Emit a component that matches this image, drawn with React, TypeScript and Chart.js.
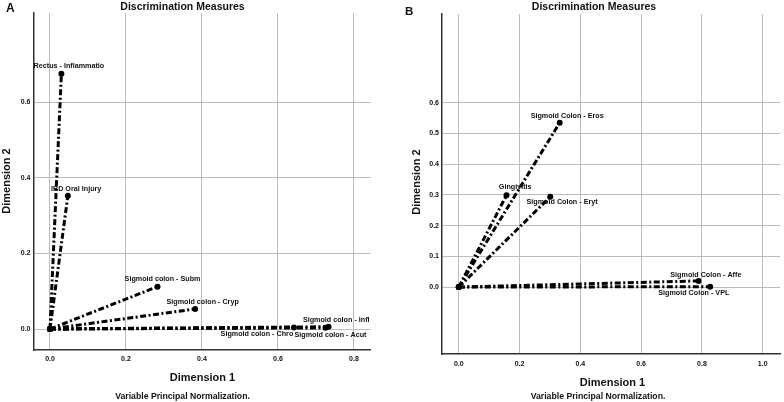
import React, { useEffect, useRef } from 'react';
import { Chart, registerables } from 'chart.js';

Chart.register(...registerables);

// ---------- data ----------
const panelAVariables = [
  'Rectus - Inflammatio',
  'IBD Oral Injury',
  'Sigmoid colon - Subm',
  'Sigmoid colon - Cryp',
  'Sigmoid colon - Infl',
  'Sigmoid colon - Chro',
  'Sigmoid colon - Acut',
];
const panelADim1 = [0.03, 0.047, 0.283, 0.382, 0.733, 0.642, 0.725];
const panelADim2 = [0.675, 0.352, 0.112, 0.053, 0.006, 0.004, 0.003];
const panelAXTicks = [0, 0.2, 0.4, 0.6, 0.8];
const panelAYTicks = [0, 0.2, 0.4, 0.6];

const panelBVariables = [
  'Sigmoid Colon - Eros',
  'Gingivitis',
  'Sigmoid Colon - Eryt',
  'Sigmoid Colon - Affe',
  'Sigmoid Colon - VPL',
];
const panelBDim1 = [0.332, 0.157, 0.301, 0.789, 0.827];
const panelBDim2 = [0.535, 0.299, 0.294, 0.02, 0.001];
const panelBXTicks = [0, 0.2, 0.4, 0.6, 0.8, 1.0];
const panelBYTicks = [0, 0.1, 0.2, 0.3, 0.4, 0.5, 0.6];

const chartTitle = 'Discrimination Measures';
const xTitle = 'Dimension 1';
const yTitle = 'Dimension 2';
const footnote = 'Variable Principal Normalization.';

// ---------- styling / placement ----------
const labelOffsetsA: [number, number][] = [
  [7.5, -7.3], [8.3, -7.3], [5, -7.7], [7.5, -7], [7.7, -6.7], [-37, 7], [5, 7],
];
const labelOffsetsB: [number, number][] = [
  [7.5, -6.7], [8.7, -8.3], [11.8, 5.3], [7.3, -6], [-16.3, 6.3],
];

const FONT = '"Liberation Sans", Arial, sans-serif';
const TEXT = '#111';

interface PanelSpec {
  letter: string;
  letterPos: [number, number, number];
  names: string[];
  dim1: number[];
  dim2: number[];
  offsets: [number, number][];
  xTicks: number[];
  yTicks: number[];
  xRange: [number, number];
  yRange: [number, number];
  yAxisWidth: number;
  xAxisHeight: number;
  padding: { left: number; right: number; top: number; bottom: number };
  xTickPad: number;
  yTickPad: number;
  titlePos: [number, number];
  xTitlePos: [number, number];
  footPos: [number, number];
  yTitlePos: [number, number];
}

const specA: PanelSpec = {
  letter: 'A',
  letterPos: [6, 12, 12],
  names: panelAVariables,
  dim1: panelADim1,
  dim2: panelADim2,
  offsets: labelOffsetsA,
  xTicks: panelAXTicks,
  yTicks: panelAYTicks,
  xRange: [-0.0434, 0.844],
  yRange: [-0.0555, 0.8353],
  yAxisWidth: 33.5,
  xAxisHeight: 52,
  padding: { left: 0, right: 21.3, top: 13, bottom: 0 },
  xTickPad: 5,
  yTickPad: 3,
  titlePos: [182.5, 9.5],
  xTitlePos: [202.5, 380.5],
  footPos: [182.5, 398.5],
  yTitlePos: [9.8, 181],
};

const specB: PanelSpec = {
  letter: 'B',
  letterPos: [13, 15, 11.5],
  names: panelBVariables,
  dim1: panelBDim1,
  dim2: panelBDim2,
  offsets: labelOffsetsB,
  xTicks: panelBXTicks,
  yTicks: panelBYTicks,
  xRange: [-0.0553, 1.057],
  yRange: [-0.218, 0.889],
  yAxisWidth: 50,
  xAxisHeight: 48,
  padding: { left: 0, right: 0, top: 14, bottom: 0 },
  xTickPad: 6,
  yTickPad: 3,
  titlePos: [202, 9.5],
  xTitlePos: [220.5, 386],
  footPos: [206, 399],
  yTitlePos: [28.3, 182],
};

function buildConfig(spec: PanelSpec): any {
  const datasets = spec.names.map((name, i) => ({
    label: name,
    data: [
      { x: 0, y: 0 },
      { x: spec.dim1[i], y: spec.dim2[i] },
    ],
    showLine: true,
    borderColor: '#000',
    borderWidth: 3,
    borderDash: [6, 2.5, 2, 2.5],
    borderCapStyle: 'butt',
    pointRadius: 3,
    pointBackgroundColor: '#000',
    pointBorderWidth: 0,
    fill: false,
  }));

  const textPlugin = {
    id: 'panelText',
    afterDatasetsDraw(chart: any) {
      const ctx = chart.ctx;
      const xs = chart.scales.x;
      const ys = chart.scales.y;
      ctx.save();
      ctx.fillStyle = TEXT;
      ctx.textAlign = 'center';
      ctx.textBaseline = 'middle';
      ctx.font = `bold 7.2px ${FONT}`;
      spec.names.forEach((name, i) => {
        const px = xs.getPixelForValue(spec.dim1[i]);
        const py = ys.getPixelForValue(spec.dim2[i]);
        const [dx, dy] = spec.offsets[i];
        ctx.fillText(name, px + dx, py + dy);
      });
      ctx.restore();
    },
    afterDraw(chart: any) {
      const ctx = chart.ctx;
      ctx.save();
      ctx.fillStyle = TEXT;
      ctx.textBaseline = 'alphabetic';
      // panel letter
      ctx.textAlign = 'left';
      ctx.font = `bold ${spec.letterPos[2]}px ${FONT}`;
      ctx.fillText(spec.letter, spec.letterPos[0], spec.letterPos[1]);
      // title
      ctx.textAlign = 'center';
      ctx.font = `bold 10.5px ${FONT}`;
      ctx.fillText(chartTitle, spec.titlePos[0], spec.titlePos[1]);
      // x title
      ctx.font = `bold 11px ${FONT}`;
      ctx.fillText(xTitle, spec.xTitlePos[0], spec.xTitlePos[1]);
      // footnote
      ctx.font = `bold 8.7px ${FONT}`;
      ctx.fillText(footnote, spec.footPos[0], spec.footPos[1]);
      // y title
      ctx.translate(spec.yTitlePos[0], spec.yTitlePos[1]);
      ctx.rotate(-Math.PI / 2);
      ctx.font = `bold 11px ${FONT}`;
      ctx.fillText(yTitle, 0, 0);
      ctx.restore();
    },
  };

  return {
    type: 'scatter',
    data: { datasets },
    plugins: [textPlugin],
    options: {
      animation: false,
      responsive: false,
      maintainAspectRatio: false,
      devicePixelRatio: 1,
      layout: { padding: spec.padding },
      plugins: {
        legend: { display: false },
        tooltip: { enabled: false },
        title: { display: false },
      },
      scales: {
        x: {
          type: 'linear',
          min: spec.xRange[0],
          max: spec.xRange[1],
          afterBuildTicks: (scale: any) => {
            scale.ticks = spec.xTicks.map((v) => ({ value: v }));
          },
          afterFit: (scale: any) => {
            scale.height = spec.xAxisHeight;
          },
          ticks: {
            padding: spec.xTickPad,
            color: TEXT,
            font: { family: FONT, size: 7, weight: 'bold' },
            callback: (v: any) => Number(v).toFixed(1),
            maxRotation: 0,
            autoSkip: false,
          },
          grid: { color: '#bcbcbc', lineWidth: 1, drawTicks: false },
          border: { display: true, color: '#333', width: 1.5 },
          title: { display: false },
        },
        y: {
          type: 'linear',
          min: spec.yRange[0],
          max: spec.yRange[1],
          afterBuildTicks: (scale: any) => {
            scale.ticks = spec.yTicks.map((v) => ({ value: v }));
          },
          afterFit: (scale: any) => {
            scale.width = spec.yAxisWidth;
          },
          ticks: {
            padding: spec.yTickPad,
            color: TEXT,
            font: { family: FONT, size: 7, weight: 'bold' },
            callback: (v: any) => Number(v).toFixed(1),
            autoSkip: false,
          },
          grid: { color: '#bcbcbc', lineWidth: 1, drawTicks: false },
          border: { display: true, color: '#333', width: 1.5 },
          title: { display: false },
        },
      },
    },
  };
}

function Panel({ spec, left }: { spec: PanelSpec; left: number }) {
  const ref = useRef<HTMLCanvasElement | null>(null);
  useEffect(() => {
    if (!ref.current) return;
    const chart = new Chart(ref.current, buildConfig(spec));
    return () => chart.destroy();
  }, [spec]);
  return (
    <canvas
      ref={ref}
      width={392}
      height={402}
      style={{ position: 'absolute', left, top: 0, width: 392, height: 402 }}
    />
  );
}

export default function App() {
  return (
    <div
      style={{
        position: 'fixed',
        left: 0,
        top: 0,
        width: 784,
        height: 402,
        background: '#fff',
        overflow: 'hidden',
      }}
    >
      <Panel spec={specA} left={0} />
      <Panel spec={specB} left={392} />
    </div>
  );
}
